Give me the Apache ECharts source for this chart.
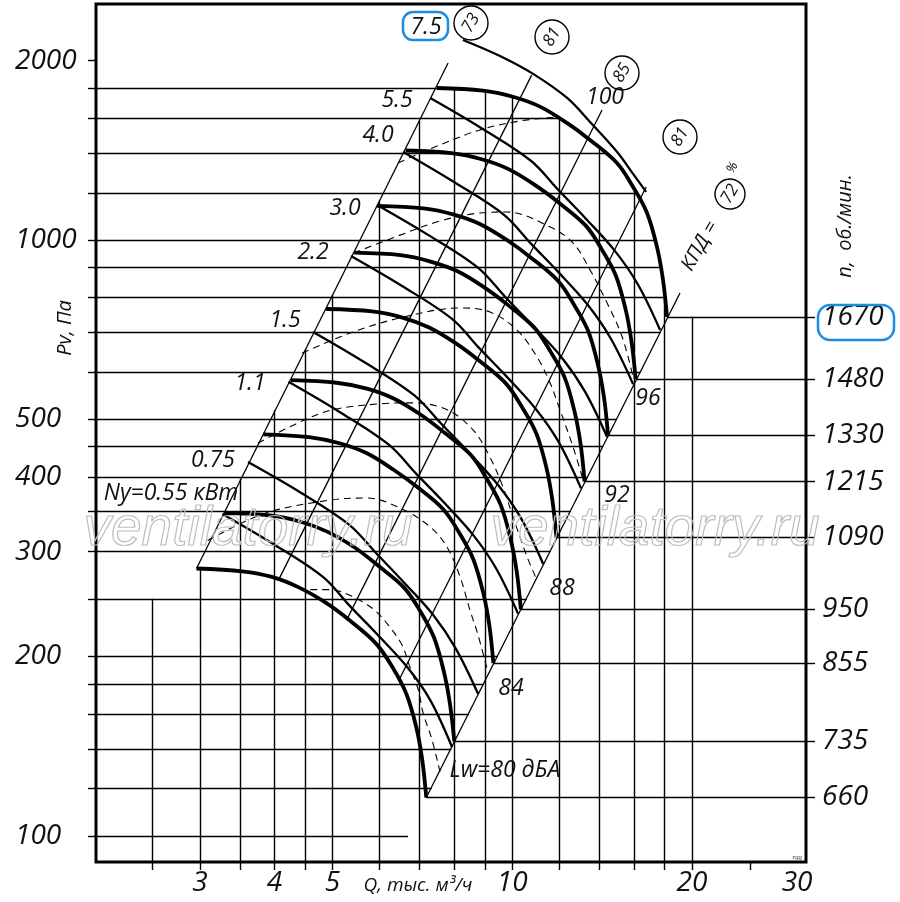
<!DOCTYPE html>
<html lang="ru">
<head>
<meta charset="UTF-8">
<title>ВР 80-75 характеристика</title>
<style>
html, body { margin: 0; padding: 0; background: #fff; }
#chart { width: 900px; height: 902px; }
</style>
</head>
<body>
<div id="chart"></div>
<script src="https://cdn.jsdelivr.net/npm/echarts@6/dist/echarts.min.js"></script>
<script>
// axis range: Q, thousand m3/h (x) and Pv, Pa (y), both log
var qMin = 2.009, qMax = 31.05;
var pMin = 90.4, pMax = 2489;

var qTicks = [2.5, 3, 3.5, 4, 4.5, 5, 6, 7, 8, 9, 10, 12, 14, 16, 18, 20, 25];
var qLabels = [3, 4, 5, 10, 20, 30];
var pTicks = [2000, 1800, 1600, 1400, 1200, 1000, 900, 800, 700, 600, 500, 450, 400, 350, 300, 250, 200, 180, 160, 140, 120, 100];
var pLabels = [2000, 1000, 500, 400, 300, 200, 100];
var rpm = [1670, 1480, 1330, 1215, 1090, 950, 855, 735, 660];

// bold curves, one per speed
var q1670 = [7.48, 8.93, 10.03, 11.13, 12.35, 13.50, 14.98, 15.94, 16.82, 17.48, 17.89, 18.17];
var p1670 = [1799, 1781, 1739, 1674, 1572, 1472, 1346, 1227, 1110, 973, 857, 743];
var q1480 = [6.63, 7.91, 8.89, 9.86, 10.94, 11.96, 13.28, 14.13, 14.91, 15.49, 15.85, 16.10];
var p1480 = [1413, 1399, 1366, 1315, 1235, 1156, 1057, 964, 872, 764, 673, 584];
var q1330 = [5.94, 7.11, 7.99, 8.86, 9.84, 10.75, 11.93, 12.70, 13.40, 13.92, 14.25, 14.47];
var p1330 = [1141, 1130, 1103, 1062, 997, 934, 854, 778, 704, 617, 544, 471];
var q1215 = [5.44, 6.50, 7.30, 8.10, 8.99, 9.82, 10.90, 11.60, 12.24, 12.72, 13.02, 13.22];
var p1215 = [952, 943, 920, 886, 832, 779, 712, 649, 588, 515, 454, 393];
var q1090 = [4.88, 5.83, 6.55, 7.26, 8.06, 8.81, 9.78, 10.40, 10.98, 11.41, 11.68, 11.86];
var p1090 = [766, 759, 741, 713, 670, 627, 573, 523, 473, 415, 365, 317];
var q950 = [4.26, 5.08, 5.71, 6.33, 7.03, 7.68, 8.52, 9.07, 9.57, 9.94, 10.18, 10.34];
var p950 = [582, 576, 563, 542, 509, 476, 436, 397, 359, 315, 277, 240];
var q855 = [3.83, 4.57, 5.14, 5.70, 6.32, 6.91, 7.67, 8.16, 8.61, 8.95, 9.16, 9.30];
var p855 = [472, 467, 456, 439, 412, 386, 353, 322, 291, 255, 225, 195];
var q735 = [3.29, 3.93, 4.41, 4.90, 5.44, 5.94, 6.59, 7.02, 7.40, 7.69, 7.87, 8.00];
var p735 = [348, 345, 337, 324, 305, 285, 261, 238, 215, 188, 166, 144];
var q660 = [2.96, 3.53, 3.96, 4.40, 4.88, 5.34, 5.92, 6.30, 6.65, 6.91, 7.07, 7.18];
var p660 = [281, 278, 272, 261, 246, 230, 210, 192, 173, 152, 134, 116];

// medium curves, labelled by motor power
var m75Q = [8.27, 9.54, 10.84, 12.36, 13.50, 14.99, 15.94, 16.76];
var m75P = [2166, 2036, 1900, 1731, 1578, 1405, 1291, 1204];
var m55Q = [7.29, 8.87, 10.76, 11.94, 13.25, 14.87, 16.25, 17.69];
var m55P = [1731, 1542, 1357, 1214, 1089, 958, 841, 706];
var m40Q = [6.57, 7.99, 9.70, 10.76, 11.94, 13.40, 14.64, 15.94];
var m40P = [1405, 1251, 1101, 985, 884, 777, 682, 573];
var m30Q = [5.94, 7.23, 8.77, 9.73, 10.80, 12.12, 13.25, 14.42];
var m30P = [1145, 1020, 898, 803, 720, 634, 556, 467];
var m22Q = [5.37, 6.54, 7.93, 8.80, 9.77, 10.96, 11.98, 13.04];
var m22P = [940, 837, 737, 659, 591, 520, 457, 383];
var m15Q = [4.64, 5.65, 6.85, 7.60, 8.44, 9.47, 10.35, 11.27];
var m15P = [701, 624, 549, 492, 441, 388, 341, 286];
var m11Q = [4.22, 5.13, 6.22, 6.91, 7.66, 8.60, 9.40, 10.23];
var m11P = [578, 515, 453, 405, 364, 320, 281, 236];
var m075Q = [3.61, 4.40, 5.33, 5.92, 6.57, 7.37, 8.05, 8.77];
var m075P = [424, 378, 333, 298, 267, 235, 206, 173];
var m055Q = [3.27, 3.98, 4.82, 5.35, 5.94, 6.67, 7.29, 7.93];
var m055P = [347, 309, 272, 243, 218, 192, 169, 141];

// dashed curves
var d1Q = [6.44, 7.57, 8.83, 10.31, 11.94];
var d1P = [1347, 1444, 1530, 1584, 1609];
var d2Q = [5.43, 6.49, 7.57, 8.83, 9.80, 11.57, 12.65, 13.50, 14.42, 15.28, 15.94];
var d2P = [951, 1019, 1076, 1110, 1114, 1052, 988, 891, 784, 688, 589];
var d3Q = [4.45, 5.35, 6.49, 8.18, 9.18, 10.19, 11.01, 11.57, 11.94, 12.65, 13.14];
var d3P = [646, 698, 740, 769, 757, 706, 636, 576, 529, 449, 396];
var d4Q = [3.75, 4.41, 5.01, 6.01, 6.82, 7.78, 8.60, 9.18, 9.65, 10.03, 10.59, 10.96];
var d4P = [456, 495, 519, 531, 533, 519, 480, 432, 385, 343, 294, 271];
var d5Q = [3.09, 3.83, 4.95, 5.71, 6.49, 7.29, 7.78, 8.18, 8.50, 8.77, 9.11];
var d5P = [313, 347, 366, 369, 355, 330, 305, 272, 239, 217, 188];
var d6Q = [4.59, 4.95, 5.41, 5.89, 6.24, 6.54, 6.74, 6.96, 7.09, 7.34, 7.57];
var d6P = [259, 259, 252, 239, 224, 209, 192, 176, 161, 145, 128];

// straight rays (efficiency), bottom and top ends
var rayQ0 = [2.96, 4.07, 5.30, 6.47, 7.18];
var rayP0 = [281, 270, 232, 183, 116];
var rayQ1 = [7.81, 10.78, 14.14, 16.76, 19.10];
var rayP1 = [1982, 1891, 1653, 1227, 815];

// horizontal grid lines from the left axis to the curve field
var hLevelP = [1800, 1600, 1400, 1200, 1000, 900, 800, 700, 600, 500, 450, 400, 350, 300, 250, 200, 180, 160, 140, 120, 100];
var hEndQ = [7.48, 12.05, 14.4, 16.2, 17.4, 17.8, 18.08, 17.70, 16.39, 14.96, 14.19, 13.38, 12.52, 11.59, 10.58, 9.46, 8.97, 8.46, 7.91, 7.33, 6.69];
// vertical grid lines from their top down to the x axis
var vQ = [2.5, 3, 3.5, 4, 4.5, 5, 6, 7, 8, 9, 10, 12, 14, 16, 18, 20];
var vTopP = [250, 281, 397, 518, 655, 809, 1165, 1586, 1795, 1778, 1742, 1605, 1436, 1225, 815, 743];

function pts(q, p) {
    var out = [];
    for (var i = 0; i < q.length; i++) out.push([q[i], p[i]]);
    return out;
}

var boldQ = [q1670, q1480, q1330, q1215, q1090, q950, q855, q735, q660];
var boldP = [p1670, p1480, p1330, p1215, p1090, p950, p855, p735, p660];
var midQ = [m75Q, m55Q, m40Q, m30Q, m22Q, m15Q, m11Q, m075Q, m055Q];
var midP = [m75P, m55P, m40P, m30P, m22P, m15P, m11P, m075P, m055P];
var dashQ = [d1Q, d2Q, d3Q, d4Q, d5Q, d6Q];
var dashP = [d1P, d2P, d3P, d4P, d5P, d6P];

var rpmEndP = boldP.map(function (p) { return p[p.length - 1]; });

var gridCoords = [];
hLevelP.forEach(function (p, i) {
    gridCoords.push({ coords: [[qMin, p], [hEndQ[i], p]] });
});
vQ.forEach(function (q, i) {
    gridCoords.push({ coords: [[q, vTopP[i]], [q, pMin]] });
});
boldQ.forEach(function (q, i) {
    var p = boldP[i];
    gridCoords.push({ coords: [[q[q.length - 1], p[p.length - 1]], [qMax, p[p.length - 1]]] });
});

var rayCoords = rayQ0.map(function (q, i) {
    return { coords: [[q, rayP0[i]], [rayQ1[i], rayP1[i]]] };
});

var series = [];
series.push({
    type: 'lines', coordinateSystem: 'cartesian2d', data: gridCoords,
    lineStyle: { color: '#000', width: 1.4, opacity: 1, curveness: 0 }, silent: true, z: 1
});
series.push({
    type: 'lines', coordinateSystem: 'cartesian2d', data: rayCoords,
    lineStyle: { color: '#000', width: 1.3, opacity: 1, curveness: 0 }, silent: true, z: 2
});
dashQ.forEach(function (q, i) {
    series.push({
        type: 'line', data: pts(q, dashP[i]), smooth: 0.35, symbol: 'none', silent: true, z: 3,
        lineStyle: { color: '#000', width: 1.1, type: [7, 5] }
    });
});
midQ.forEach(function (q, i) {
    series.push({
        type: 'line', data: pts(q, midP[i]), smooth: 0.35, symbol: 'none', silent: true, z: 4,
        lineStyle: { color: '#000', width: 2.3 }
    });
});
boldQ.forEach(function (q, i) {
    series.push({
        type: 'line', data: pts(q, boldP[i]), smooth: 0.35, symbol: 'none', silent: true, z: 5,
        lineStyle: { color: '#000', width: 3.8 }
    });
});

var FONT = '"Open Sans", "DejaVu Sans", sans-serif';
function txt(s, x, y, size, rot) {
    return {
        type: 'text', x: x, y: y, z: 20, rotation: rot || 0,
        style: { text: s, font: 'italic ' + size + 'px ' + FONT, fill: '#111', align: 'center', verticalAlign: 'middle' }
    };
}
function ring(x, y, s) {
    return [
        { type: 'circle', z: 19, shape: { cx: x, cy: y, r: 17 }, style: { fill: '#fff', stroke: '#000', lineWidth: 1.4 } },
        txt(s, x, y, 17, Math.PI / 3)
    ];
}

var graphics = [
    txt('5.5', 397, 100, 23), txt('4.0', 378, 135, 23), txt('3.0', 345, 208, 23),
    txt('2.2', 313, 252, 23), txt('1.5', 285, 320, 23), txt('1.1', 250, 383, 23),
    txt('0.75', 213, 460, 23), txt('Ny=0.55 кВт', 171, 493, 23), txt('7.5', 426, 27, 23),
    txt('100', 605, 97, 23), txt('96', 648, 398, 23), txt('92', 617, 495, 23),
    txt('88', 562, 588, 23), txt('84', 511, 688, 23), txt('Lw=80 дБА', 505, 770, 23),
    txt('Pv, Па', 65, 328, 20, Math.PI / 2),
    txt('n,  об./мин.', 845, 226, 20, Math.PI / 2),
    txt('Q, тыс. м³/ч', 418, 886, 19),
    {
        type: 'group', x: 700, y: 246, rotation: Math.PI * 60 / 180, z: 20,
        children: [
            { type: 'text', x: 0, y: 0, style: { text: 'КПД =', font: 'italic 20px ' + FONT, fill: '#111', align: 'center', verticalAlign: 'middle' } },
            { type: 'circle', shape: { cx: 60, cy: 0, r: 15 }, style: { fill: '#fff', stroke: '#000', lineWidth: 1.4 } },
            { type: 'text', x: 60, y: 0, style: { text: '72', font: 'italic 17px ' + FONT, fill: '#111', align: 'center', verticalAlign: 'middle' } },
            { type: 'text', x: 84, y: -11, style: { text: '%', font: 'italic 13px ' + FONT, fill: '#111', align: 'center', verticalAlign: 'middle' } }
        ]
    },
    {
        type: 'text', x: 248, y: 530, z: 18,
        style: { text: 'ventilatorry.ru', font: 'italic 55px "Liberation Sans", sans-serif', fill: 'rgba(0,0,0,0)', stroke: '#bdbdbd', lineWidth: 1.2, align: 'center', verticalAlign: 'middle' }
    },
    {
        type: 'text', x: 655, y: 530, z: 18,
        style: { text: 'ventilatorry.ru', font: 'italic 55px "Liberation Sans", sans-serif', fill: 'rgba(0,0,0,0)', stroke: '#bdbdbd', lineWidth: 1.2, align: 'center', verticalAlign: 'middle' }
    },
    { type: 'text', x: 797, y: 857, z: 18, style: { text: 'zgg', font: '6px sans-serif', fill: '#444', align: 'center', verticalAlign: 'middle' } },
    { type: 'rect', z: 21, shape: { x: 403, y: 12, width: 45, height: 28, r: 10 }, style: { fill: 'rgba(0,0,0,0)', stroke: '#1a8ee0', lineWidth: 2.5 } },
    { type: 'rect', z: 21, shape: { x: 818, y: 305, width: 76, height: 35, r: 12 }, style: { fill: 'rgba(0,0,0,0)', stroke: '#1a8ee0', lineWidth: 2.5 } }
];
graphics = graphics.concat(ring(471, 23, '73'), ring(552, 37, '81'), ring(622, 73, '85'), ring(680, 137, '81'));

var labelFont = { color: '#111', fontSize: 28, fontStyle: 'italic', fontFamily: FONT };
var chart = echarts.init(document.getElementById('chart'));
chart.setOption({
    animation: false,
    backgroundColor: '#fff',
    grid: { left: 96, right: 94, top: 4, bottom: 40, show: true, borderColor: '#000', borderWidth: 3 },
    xAxis: {
        type: 'log', min: qMin, max: qMax,
        axisLine: { show: false }, splitLine: { show: false }, minorTick: { show: false },
        axisTick: { show: true, customValues: qTicks, length: 8, lineStyle: { color: '#000', width: 1.4 } },
        axisLabel: Object.assign({ customValues: qLabels, margin: 7, formatter: function (v) { return String(v); } }, labelFont)
    },
    yAxis: [{
        type: 'log', min: pMin, max: pMax, position: 'left',
        axisLine: { show: false }, splitLine: { show: false }, minorTick: { show: false },
        axisTick: { show: true, customValues: pTicks, length: 8, lineStyle: { color: '#000', width: 1.4 } },
        axisLabel: Object.assign({ customValues: pLabels, align: 'left', margin: 81, formatter: function (v) { return String(v); } }, labelFont)
    }, {
        type: 'log', min: pMin, max: pMax, position: 'right',
        axisLine: { show: false }, splitLine: { show: false }, minorTick: { show: false },
        axisTick: { show: true, customValues: rpmEndP, length: 9, lineStyle: { color: '#000', width: 1.4 } },
        axisLabel: Object.assign({
            customValues: rpmEndP, align: 'left', margin: 16,
            formatter: function (v) {
                var best = 0;
                for (var i = 1; i < rpmEndP.length; i++) {
                    if (Math.abs(rpmEndP[i] - v) < Math.abs(rpmEndP[best] - v)) best = i;
                }
                return String(rpm[best]);
            }
        }, labelFont)
    }],
    series: series,
    graphic: graphics
});
</script>
</body>
</html>
